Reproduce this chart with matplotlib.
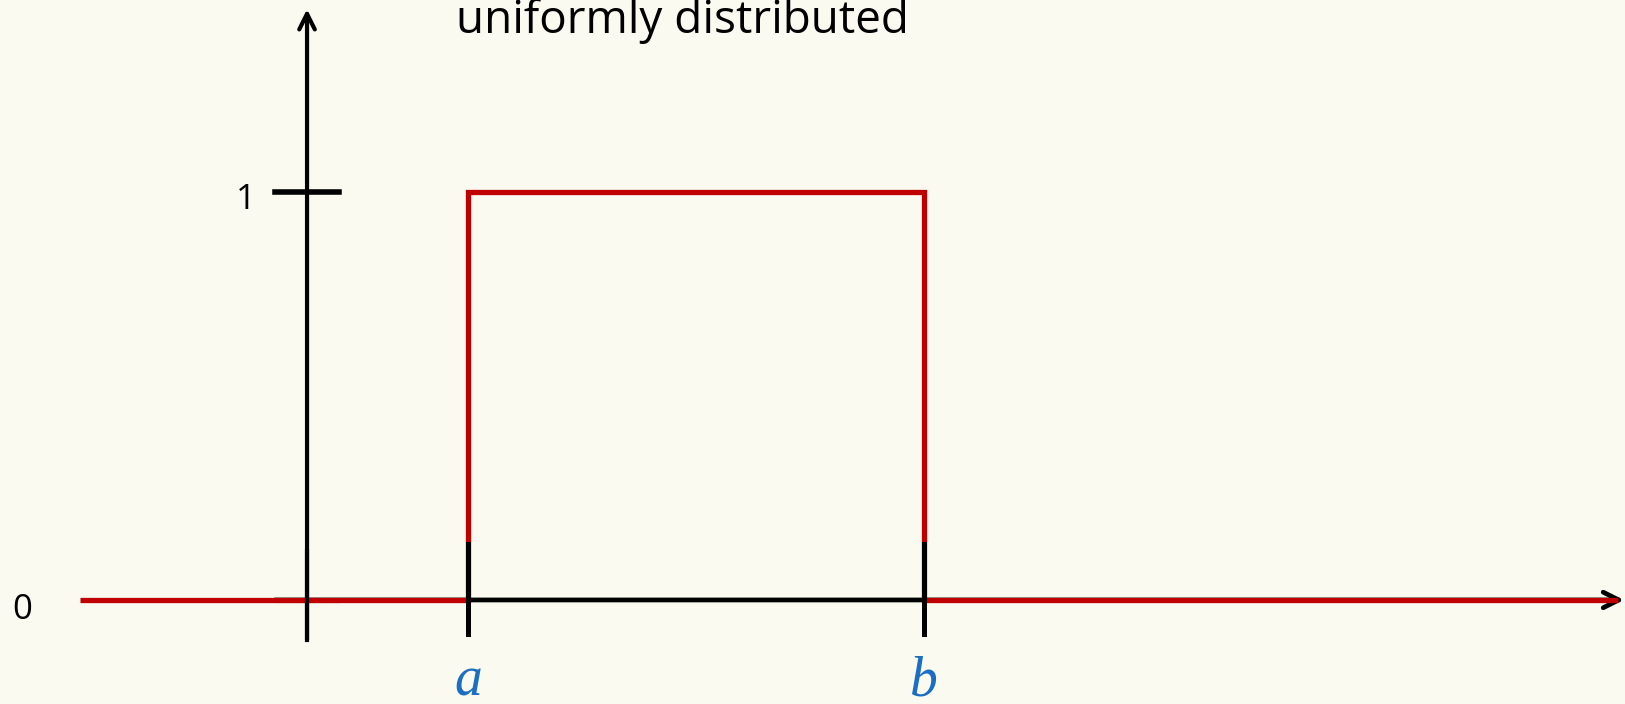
import matplotlib.pyplot as plt

# Uniform density sketch: values in data units (y-axis at x=0)
a_pos = 1.0
b_pos = 3.83
density = 1.0
x_left = -1.41
x_right = 8.14

pdf_left_x = [x_left, a_pos]
pdf_left_y = [0, 0]
pdf_box_x = [a_pos, a_pos, b_pos, b_pos]
pdf_box_y = [0, density, density, 0]
pdf_right_x = [b_pos, x_right]
pdf_right_y = [0, 0]

xtick_pos = [a_pos, b_pos]
xtick_labels = ['a', 'b']
ytick_labels = ['0', '1']
title = 'uniformly distributed'

bg = '#fafaf0'
red = '#c00000'
blue = '#1b6ec2'

fig = plt.figure(figsize=(16.25, 7.04), dpi=100, facecolor=bg)
ax = fig.add_axes([0, 0, 1, 1])
ax.set_facecolor(bg)
ax.set_xlim(-1.907, 8.186)
ax.set_ylim(-0.255, 1.4706)
ax.axis('off')

# x axis (black, with arrow)
ax.annotate('', xy=(8.18, 0), xytext=(-0.2, 0),
            arrowprops=dict(arrowstyle='->', lw=3.4, color='black',
                            mutation_scale=28, shrinkA=0, shrinkB=0),
            zorder=1)
# y axis
ax.annotate('', xy=(0, 1.448), xytext=(0, -0.098),
            arrowprops=dict(arrowstyle='->', lw=3, color='black',
                            mutation_scale=28, shrinkA=0, shrinkB=0),
            zorder=1)
# small grey tick at origin
ax.plot([-0.199, 0.199], [-0.005, -0.005], color='#555555', lw=1.5, zorder=1)

# density curve
ax.plot(pdf_left_x, pdf_left_y, color=red, lw=3.8, solid_capstyle='butt', zorder=3)
ax.plot(pdf_box_x, pdf_box_y, color=red, lw=3.8, solid_joinstyle='miter', zorder=3)
ax.plot(pdf_right_x, pdf_right_y, color=red, lw=3.8, solid_capstyle='butt', zorder=3)
# y axis redrawn over the red line near the origin
ax.plot([0, 0], [-0.098, 0.12], color='black', lw=3, zorder=4)

# tick at y = 1
ax.plot([-0.199, 0.199], [density, density], color='black', lw=4, zorder=4)

# ticks at a and b
for xp in xtick_pos:
    ax.plot([xp, xp], [-0.083, 0.137], color='black', lw=3.6, zorder=5)

# labels
ax.text(-0.382, density - 0.02, ytick_labels[1], fontsize=25, family='Open Sans',
        ha='center', va='center')
ax.text(-1.767, -0.024, ytick_labels[0], fontsize=25, family='Open Sans',
        ha='center', va='center')
for xp, lab in zip(xtick_pos, xtick_labels):
    ax.text(xp, -0.233, lab, fontsize=40, family='Liberation Serif',
            style='italic', color=blue, ha='center', va='baseline')

ax.text(2.329, 1.39, title, fontsize=33, family='Open Sans',
        ha='center', va='baseline')

fig.savefig('out.png', dpi=100, facecolor=bg)
